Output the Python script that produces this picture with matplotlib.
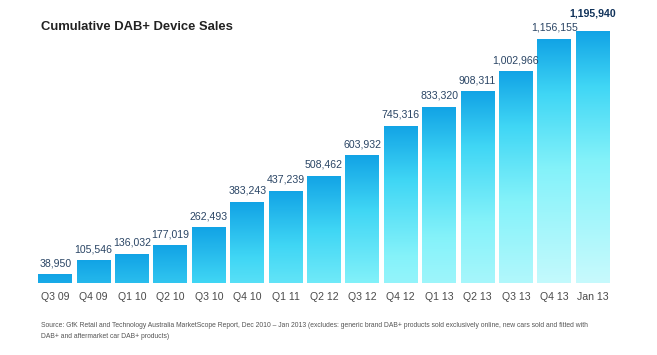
import matplotlib
matplotlib.use("Agg")
import matplotlib.pyplot as plt
import numpy as np

quarters = ["Q3 09", "Q4 09", "Q1 10", "Q2 10", "Q3 10", "Q4 10", "Q1 11", "Q2 12",
            "Q3 12", "Q4 12", "Q1 13", "Q2 13", "Q3 13", "Q4 13", "Jan 13"]
sales = [38950, 105546, 136032, 177019, 262493, 383243, 437239, 508462,
         603932, 745316, 833320, 908311, 1002966, 1156155, 1195940]
value_labels = ["{:,}".format(v) for v in sales]

title = "Cumulative DAB+ Device Sales"
source = ("Source: GfK Retail and Technology Australia MarketScope Report, Dec 2010 \u2013 Jan 2013 "
          "(excludes: generic brand DAB+ products sold exclusively online, new cars sold and fitted with\n"
          "DAB+ and aftermarket car DAB+ products)")

plt.rcParams['font.family'] = ['Liberation Sans', 'DejaVu Sans']

W, H = 657, 355
fig = plt.figure(figsize=(W / 100, H / 100), dpi=100)
ax_left, ax_right = 36, 612
ax_bottom, ax_top = 282.7, 8
ax = fig.add_axes([ax_left / W, (H - ax_bottom) / H,
                   (ax_right - ax_left) / W, (ax_bottom - ax_top) / H])

px_per_unit = 252 / 1195940
ymax = (ax_bottom - ax_top) / px_per_unit
x = np.arange(len(sales))
width = 0.885

bars = ax.bar(x, sales, width=width, color="none", edgecolor="none")

# colour as a function of pixel distance from the bar top
stops_d = [0, 55, 130, 250]
stops_c = np.array([[0.07, 0.64, 0.90],
                    [0.25, 0.84, 0.96],
                    [0.52, 0.95, 0.98],
                    [0.78, 0.98, 0.99]])

for b, v in zip(bars, sales):
    hpx = int(max(v * px_per_unit, 2)) * 2
    d = np.linspace(0, v * px_per_unit, hpx)
    grad = np.stack([np.interp(d, stops_d, stops_c[:, k]) for k in range(3)], axis=-1)
    grad = grad[:, None, :]
    im = ax.imshow(grad, extent=(b.get_x(), b.get_x() + b.get_width(), 0, v),
                   aspect="auto", interpolation="bilinear", origin="upper", zorder=2)
    im.set_clip_path(b)

for i, (v, lab) in enumerate(zip(sales, value_labels)):
    last = i == len(sales) - 1
    ax.annotate(lab, (i, v), xytext=(0, 9 if last else 4.5), textcoords="offset points",
                ha="center", va="bottom", fontsize=7.6,
                color="#10325a" if last else "#2a4565",
                fontweight="bold" if last else "normal")

ax.set_xlim(-0.5, len(sales) - 0.5)
ax.set_ylim(0, ymax)
ax.set_xticks(x)
ax.set_xticklabels(quarters, fontsize=7.6, color="#4a4a4a")
ax.tick_params(axis="x", length=0, pad=6.5)
ax.set_yticks([])
for s in ax.spines.values():
    s.set_visible(False)

fig.text(41 / W, 1 - 27.5 / H, title, fontsize=9.4, fontweight="bold",
         color="#222222", va="center", ha="left")
fig.text(41 / W, 1 - 322 / H, source, fontsize=4.9, color="#555555",
         va="top", ha="left", linespacing=1.8)

fig.savefig("out.png", dpi=100)
